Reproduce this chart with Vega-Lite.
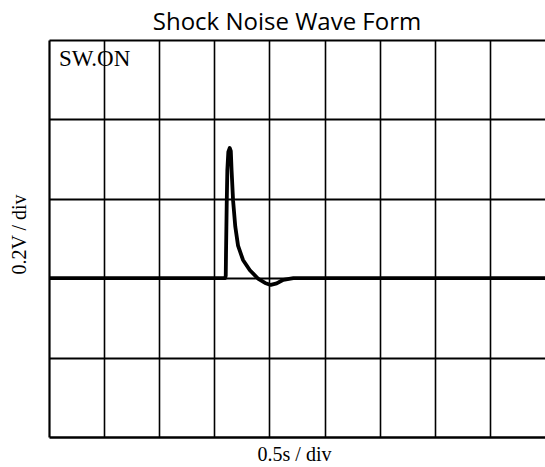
{
  "$schema": "https://vega.github.io/schema/vega-lite/v6.json",
  "width": 496,
  "height": 397,
  "autosize": "none",
  "padding": {"left": 49, "top": 40, "right": 0, "bottom": 30},
  "background": "white",
  "config": {"view": {"stroke": null}},
  "title": {
    "text": "Shock Noise Wave Form",
    "font": "Open Sans",
    "fontSize": 24,
    "fontWeight": "normal",
    "color": "black",
    "anchor": "middle",
    "baseline": "alphabetic",
    "offset": -14,
    "dx": -10
  },
  "datasets": {
    "trace": [
      {"t": 0, "v": 0},
      {"t": 3.194, "v": 0},
      {"t": 3.207, "v": 0.03},
      {"t": 3.212, "v": 0.32},
      {"t": 3.225, "v": 0.95},
      {"t": 3.236, "v": 1.36},
      {"t": 3.254, "v": 1.59},
      {"t": 3.28, "v": 1.64},
      {"t": 3.299, "v": 1.6},
      {"t": 3.313, "v": 1.36},
      {"t": 3.34, "v": 0.98},
      {"t": 3.38, "v": 0.65},
      {"t": 3.43, "v": 0.41},
      {"t": 3.52, "v": 0.23},
      {"t": 3.645, "v": 0.1},
      {"t": 3.8, "v": -0.01},
      {"t": 3.92, "v": -0.06},
      {"t": 4.024, "v": -0.085},
      {"t": 4.132, "v": -0.065},
      {"t": 4.252, "v": -0.02},
      {"t": 4.434, "v": 0},
      {"t": 9, "v": 0}
    ],
    "labels": [
      {"t": 0.18, "v": 2.67, "label": "SW.ON"}
    ]
  },
  "layer": [
    {
      "data": {"name": "trace"},
      "mark": {"type": "line", "color": "black", "strokeWidth": 3.8, "strokeJoin": "round", "strokeCap": "round", "clip": true},
      "encoding": {
        "x": {
          "field": "t",
          "type": "quantitative",
          "scale": {"domain": [0, 9], "nice": false, "zero": false},
          "axis": {
            "values": [1, 2, 3, 4, 5, 6, 7, 8],
            "grid": true,
            "gridColor": "black",
            "gridWidth": 1.6,
            "gridOpacity": 1,
            "domain": true,
            "domainColor": "black",
            "domainWidth": 2.5,
            "ticks": false,
            "labels": false,
            "title": "0.5s / div",
            "titleFont": "Liberation Serif",
            "titleFontSize": 20,
            "titleFontWeight": "normal",
            "titleColor": "black",
            "titlePadding": 7,
            "titleX": 245
          }
        },
        "y": {
          "field": "v",
          "type": "quantitative",
          "scale": {"domain": [-2, 3], "nice": false, "zero": false},
          "axis": {
            "values": [-1, 0, 1, 2, 3],
            "grid": true,
            "gridColor": "black",
            "gridWidth": 1.8,
            "gridOpacity": 1,
            "domain": true,
            "domainColor": "black",
            "domainWidth": 2.2,
            "ticks": false,
            "labels": false,
            "title": "0.2V / div",
            "titleFont": "Liberation Serif",
            "titleFontSize": 20,
            "titleFontWeight": "normal",
            "titleColor": "black",
            "titlePadding": 20,
            "titleY": 194
          }
        }
      }
    },
    {
      "data": {"name": "labels"},
      "mark": {"type": "text", "font": "Liberation Serif", "fontSize": 23, "align": "left", "baseline": "alphabetic", "color": "black"},
      "encoding": {
        "x": {"field": "t", "type": "quantitative"},
        "y": {"field": "v", "type": "quantitative"},
        "text": {"field": "label"}
      }
    }
  ]
}
